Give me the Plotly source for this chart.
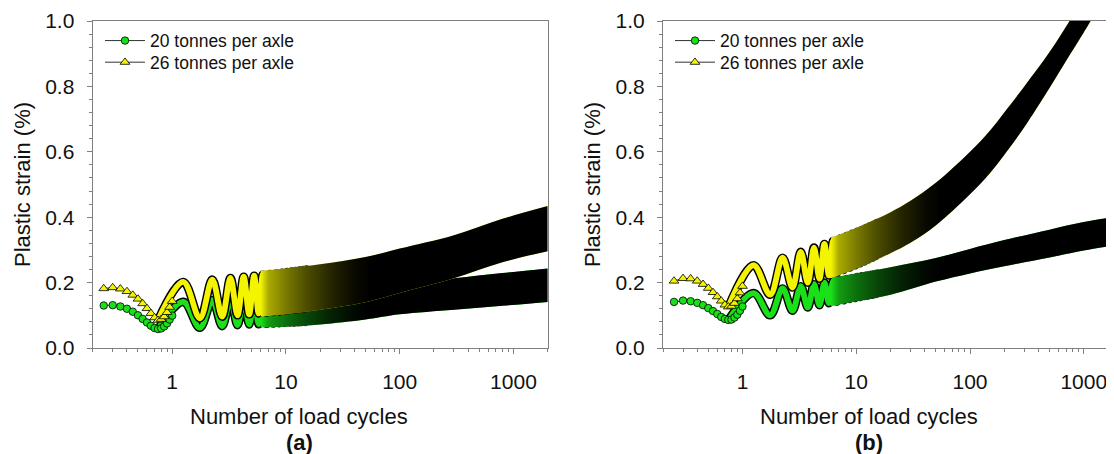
import math
import plotly.graph_objects as go

# ---------------- data ----------------
# load-cycle positions of the individually visible early markers
n_early = [0.25, 0.30, 0.35, 0.40, 0.45, 0.50, 0.55, 0.60, 0.65, 0.70,
           0.75, 0.80, 0.85, 0.90, 0.95, 1.00]
# positions of troughs / peaks of the oscillation (one per load cycle)
n_trough = [0.75, 1.75, 2.75, 3.75, 4.75, 5.75, 6.75, 7.75, 8.75, 9.75,
            10.75, 11.75, 12.75, 13.75, 14.75, 15.75]
n_peak = [1.25, 2.25, 3.25, 4.25, 5.25, 6.25, 7.25, 8.25, 9.25, 10.25,
          11.25, 12.25, 13.25, 14.25, 15.25]

# ---- panel (a) ----
a20_early = [0.130, 0.131, 0.127, 0.120, 0.111, 0.100, 0.089, 0.078, 0.068, 0.061,
             0.058, 0.060, 0.066, 0.075, 0.087, 0.099]
a26_early = [0.182, 0.185, 0.181, 0.173, 0.162, 0.150, 0.136, 0.121, 0.106, 0.093,
             0.085, 0.088, 0.096, 0.109, 0.125, 0.143]
a20_trough = [0.058, 0.062, 0.067, 0.070, 0.072, 0.073, 0.074, 0.075, 0.076, 0.077,
              0.078, 0.078, 0.079, 0.080, 0.080, 0.081]
a20_peak = [0.141, 0.146, 0.150, 0.152, 0.154, 0.156, 0.157, 0.158, 0.159, 0.160,
            0.161, 0.162, 0.163, 0.164, 0.165]
a26_trough = [0.085, 0.091, 0.096, 0.100, 0.103, 0.106, 0.108, 0.110, 0.112, 0.114,
              0.116, 0.117, 0.119, 0.120, 0.122, 0.123]
a26_peak = [0.202, 0.209, 0.214, 0.218, 0.221, 0.224, 0.226, 0.228, 0.230, 0.232,
            0.234, 0.235, 0.237, 0.238, 0.240]
# outer edges of the dense (black) band
a_band_n = [6, 10, 20, 50, 100, 300, 800, 2000]
a20_band_hi = [0.167, 0.170, 0.177, 0.188, 0.197, 0.213, 0.229, 0.243]
a20_band_lo = [0.063, 0.066, 0.072, 0.087, 0.103, 0.117, 0.129, 0.141]
a26_band_hi = [0.236, 0.243, 0.256, 0.278, 0.304, 0.345, 0.395, 0.434]
a26_band_lo = [0.096, 0.103, 0.117, 0.140, 0.168, 0.213, 0.262, 0.296]

# ---- panel (b) ----
b20_early = [0.141, 0.145, 0.143, 0.138, 0.131, 0.122, 0.113, 0.104, 0.095, 0.089,
             0.086, 0.087, 0.093, 0.102, 0.114, 0.127]
b26_early = [0.205, 0.213, 0.212, 0.205, 0.195, 0.183, 0.170, 0.157, 0.144, 0.132,
             0.126, 0.128, 0.137, 0.151, 0.169, 0.189]
b20_trough = [0.085, 0.100, 0.114, 0.124, 0.131, 0.137, 0.142, 0.146, 0.150, 0.153,
              0.156, 0.159, 0.161, 0.163, 0.165, 0.167]
b20_peak = [0.168, 0.182, 0.189, 0.195, 0.200, 0.204, 0.208, 0.211, 0.214, 0.217,
            0.219, 0.221, 0.223, 0.225, 0.227]
b26_trough = [0.125, 0.163, 0.185, 0.200, 0.212, 0.222, 0.231, 0.239, 0.246, 0.253,
              0.259, 0.265, 0.271, 0.276, 0.281, 0.286]
b26_peak = [0.253, 0.276, 0.294, 0.307, 0.318, 0.327, 0.335, 0.342, 0.349, 0.355,
            0.361, 0.367, 0.372, 0.377, 0.382]
b20_band_n = [6, 10, 20, 50, 100, 200, 500, 1000, 2000]
b20_band_hi = [0.215, 0.228, 0.247, 0.275, 0.303, 0.330, 0.362, 0.385, 0.402]
b20_band_lo = [0.128, 0.143, 0.163, 0.203, 0.228, 0.250, 0.277, 0.298, 0.315]
b26_band_n = [6, 10, 20, 30, 50, 100, 150, 200, 300, 500, 750, 1000, 1150, 2000]
b26_band_hi = [0.338, 0.367, 0.415, 0.450, 0.505, 0.600, 0.665, 0.720, 0.800, 0.905,
               1.000, 1.070, 1.105, 1.250]
b26_band_lo = [0.213, 0.243, 0.290, 0.322, 0.375, 0.470, 0.535, 0.590, 0.675, 0.795,
               0.895, 0.965, 1.000, 1.140]

series_names = ["20 tonnes per axle", "26 tonnes per axle"]
x_ticks = [1, 10, 100, 1000]
x_ticktext = ["1", "10", "100", "1000"]

# ---------------- styling ----------------
PAGE_W, PAGE_H = 1114, 454
OFF = 8                       # default page margin around the figure
W, H = PAGE_W - OFF, PAGE_H - OFF
FONT = "Liberation Sans, Arial, Helvetica, sans-serif"
GREEN = "#19e019"
YELLOW = "#f4f400"
AXIS_GRAY = "#7f7f7f"
PX_DEC = 113.75               # pixels per decade on the x axes
A_LEFT, A_RIGHT = 92.7, 547.7  # page pixels
B_LEFT = 663.0
TOP_PX, BOTTOM_PX = 21.0, 348.0


def fx(page_x):
    return (page_x - OFF) / W


def py(page_y):
    return (BOTTOM_PX - page_y) / (BOTTOM_PX - TOP_PX)


def zigzag(nt, vt, npk, vp):
    xs, ys = [], []
    for i in range(len(nt)):
        xs.append(nt[i]); ys.append(vt[i])
        if i < len(npk):
            xs.append(npk[i]); ys.append(vp[i])
    return xs, ys


def grad_scale(n0, n1):
    stops = [(6, 0.0), (7, 0.3), (10, 0.5), (15, 0.68), (25, 0.85), (40, 0.96), (55, 1.0)]
    l0, l1 = math.log10(n0), math.log10(n1)
    cs = []
    for n, a in stops:
        f = (math.log10(n) - l0) / (l1 - l0)
        cs.append([max(0.0, min(1.0, f)), "rgba(0,0,0,%.3f)" % a])
    cs.append([1.0, "rgba(0,0,0,1)"])
    return cs


fig = go.Figure()


def add_series(xa, ya, legend, name, color, symbol, size,
               n_e, v_e, v_t, v_p, band_n, band_hi, band_lo):
    zx, zy = zigzag(n_trough, v_t, n_peak, v_p)
    common = dict(xaxis=xa, yaxis=ya, hoverinfo="skip", showlegend=False)
    # stacked-marker stroke of the oscillating part
    fig.add_trace(go.Scatter(x=zx, y=zy, mode="lines",
                             line=dict(color="black", width=8.6, shape="spline"),
                             **common))
    fig.add_trace(go.Scatter(x=zx, y=zy, mode="lines",
                             line=dict(color=color, width=5.8, shape="spline"),
                             **common))
    # dense band: coloured base, then black gradient on top
    for kind in ("color", "grad"):
        fig.add_trace(go.Scatter(x=band_n, y=band_lo, mode="lines",
                                 line=dict(width=0, shape="spline", color=color),
                                 **common))
        kw = dict(fill="tonexty", mode="lines",
                  line=dict(width=0, shape="spline", color=color))
        if kind == "color":
            kw["fillcolor"] = color
        else:
            kw["fillgradient"] = dict(type="horizontal",
                                      colorscale=grad_scale(band_n[0], band_n[-1]))
        fig.add_trace(go.Scatter(x=band_n, y=band_hi, **kw, **common))
    # individually visible markers + legend entry
    fig.add_trace(go.Scatter(x=n_e, y=v_e, mode="lines+markers", name=name,
                             legend=legend, xaxis=xa, yaxis=ya, hoverinfo="skip",
                             line=dict(color="#333333", width=1),
                             marker=dict(symbol=symbol, size=size, color=color,
                                         line=dict(color="black", width=0.8))))


add_series("x", "y", "legend", series_names[0], GREEN, "circle", 7.5,
           n_early, a20_early, a20_trough, a20_peak, a_band_n, a20_band_hi, a20_band_lo)
add_series("x", "y", "legend2", series_names[1], YELLOW, "triangle-up", 8.5,
           n_early, a26_early, a26_trough, a26_peak, a_band_n, a26_band_hi, a26_band_lo)
add_series("x2", "y2", "legend3", series_names[0], GREEN, "circle", 7.5,
           n_early, b20_early, b20_trough, b20_peak, b20_band_n, b20_band_hi, b20_band_lo)
add_series("x2", "y2", "legend4", series_names[1], YELLOW, "triangle-up", 8.5,
           n_early, b26_early, b26_trough, b26_peak, b26_band_n, b26_band_hi, b26_band_lo)

minor_x = [d * 10 ** k for k in range(-1, 4) for d in range(2, 10)]
tickfont = dict(family=FONT, size=21, color="#111111")


def xaxis(dom, rng, mirror):
    return dict(type="log", domain=dom, range=rng, tickvals=x_ticks, ticktext=x_ticktext,
                showline=True, linecolor=AXIS_GRAY, linewidth=1.2, mirror=mirror,
                ticks="outside", ticklen=5, tickwidth=1, tickcolor=AXIS_GRAY,
                showgrid=False, zeroline=False, tickfont=tickfont,
                ticklabelstandoff=10,
                minor=dict(tickvals=minor_x, ticks="outside", ticklen=3,
                           tickwidth=1, tickcolor=AXIS_GRAY, showgrid=False))


def yaxis(anchor, mirror):
    return dict(anchor=anchor, domain=[0, 1], range=[0, 1.0], dtick=0.2, tick0=0,
                tickformat=".1f", showline=True, linecolor=AXIS_GRAY, linewidth=1.2,
                mirror=mirror, ticks="outside", ticklen=5, tickwidth=1,
                tickcolor=AXIS_GRAY, showgrid=False, zeroline=False, tickfont=tickfont,
                ticklabelstandoff=8,
                minor=dict(dtick=0.04, ticks="outside", ticklen=3, tickwidth=1,
                           tickcolor=AXIS_GRAY, showgrid=False))


lo = math.log10(0.2)
b_hi = lo + (PAGE_W - B_LEFT) / PX_DEC


def legend_at(xpx, ypx):
    return dict(x=fx(xpx), y=py(ypx), xanchor="left", yanchor="middle",
                bgcolor="rgba(0,0,0,0)", borderwidth=0, itemwidth=40,
                font=dict(family=FONT, size=17.5, color="#111111"))


ann_font = dict(family=FONT, size=22, color="#111111")
annotations = []
for off, lab in ((0, "(a)"), (570, "(b)")):
    annotations.append(dict(text="Plastic strain (%)", x=fx(22.5 + off), y=py(184.5),
                            xref="paper", yref="paper", textangle=-90, showarrow=False,
                            xanchor="center", yanchor="middle", font=ann_font))
    annotations.append(dict(text="Number of load cycles", x=fx(299 + off), y=py(416),
                            xref="paper", yref="paper", showarrow=False,
                            xanchor="center", yanchor="middle", font=ann_font))
    annotations.append(dict(text="<b>%s</b>" % lab, x=fx(299 + off), y=py(442),
                            xref="paper", yref="paper", showarrow=False,
                            xanchor="center", yanchor="middle", font=ann_font))

fig.update_layout(
    width=W, height=H,
    margin=dict(l=0, r=0, t=TOP_PX - OFF, b=H - (BOTTOM_PX - OFF), pad=0),
    paper_bgcolor="white", plot_bgcolor="white",
    xaxis=xaxis([fx(A_LEFT), fx(A_RIGHT)], [lo, math.log10(2000)], True),
    yaxis=yaxis("x", True),
    xaxis2=dict(anchor="y2", **xaxis([fx(B_LEFT), 1.0], [lo, b_hi], True)),
    yaxis2=yaxis("x2", False),
    legend=legend_at(100, 40.7),
    legend2=legend_at(100, 62.3),
    legend3=legend_at(670, 40.7),
    legend4=legend_at(670, 62.3),
    annotations=annotations,
    font=dict(family=FONT),
)

fig.write_html("out.html")
